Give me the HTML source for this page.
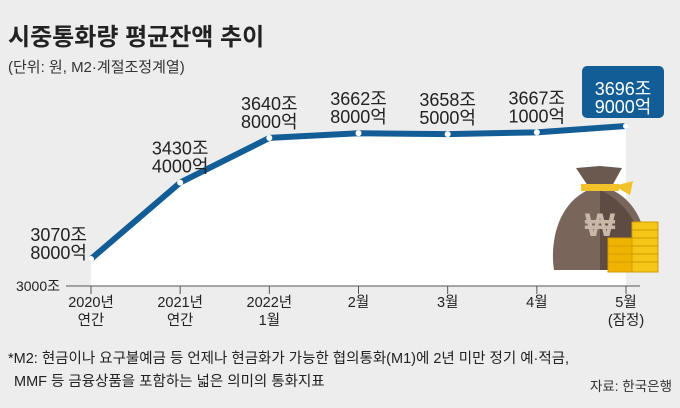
<!DOCTYPE html>
<html><head><meta charset="utf-8"><style>
body{margin:0;width:680px;height:408px;background:#ededed;overflow:hidden;font-family:"Liberation Sans","Noto Sans CJK KR",sans-serif}
svg{display:block}
text{font-family:"Liberation Sans","Noto Sans CJK KR",sans-serif}
</style></head><body>
<svg id="c" width="680" height="408">
<text x="8" y="45" font-size="24" font-weight="bold" fill="#222">시중통화량 평균잔액 추이</text>
<text x="8" y="72" font-size="15" fill="#333">(단위: 원, M2·계절조정계열)</text>
<g id="plot"></g>
<g id="bag">
<path d="M576 168 L600 166 L622 168 L612 186 L588 186 Z" fill="#6b584e"/>
<path d="M588 190 C556 205 550 245 554 270 L646 270 C650 245 644 205 612 190 Z" fill="#7a655a"/>
<path d="M600 190 C634 205 648 245 646 270 L600 270 Z" fill="#5e4b43"/>
<rect x="581" y="184" width="38" height="7" fill="#f2c22a"/><path d="M614 186 L633 181 L630 195 Z" fill="#f2c22a"/>
<text x="600" y="236" font-size="32" font-weight="bold" fill="#c9b8a8" text-anchor="middle">₩</text>
<g stroke="#d39a00" stroke-width="1">
<rect x="608" y="238" width="24" height="34" fill="#f0b400"/>
<line x1="608" y1="246" x2="632" y2="246"/><line x1="608" y1="254" x2="632" y2="254"/><line x1="608" y1="262" x2="632" y2="262"/>
<rect x="632" y="222" width="26" height="50" fill="#f5c518"/>
<line x1="632" y1="230" x2="658" y2="230"/><line x1="632" y1="238" x2="658" y2="238"/><line x1="632" y1="246" x2="658" y2="246"/><line x1="632" y1="254" x2="658" y2="254"/><line x1="632" y1="262" x2="658" y2="262"/>
</g>
</g>
<text x="8" y="363" font-size="14.5" fill="#222">*M2: 현금이나 요구불예금 등 언제나 현금화가 가능한 협의통화(M1)에 2년 미만 정기 예·적금,</text>
<text x="14" y="386" font-size="14.5" fill="#222">MMF 등 금융상품을 포함하는 넓은 의미의 통화지표</text>
<text x="672" y="391" font-size="13.5" fill="#333" text-anchor="end">자료: 한국은행</text>
</svg>
<script>
const categoriesTop=["2020년","2021년","2022년","2월","3월","4월","5월"];
const categoriesBottom=["연간","연간","1월","","","","(잠정)"];
const values=[3070.8,3430.4,3640.8,3662.8,3658.5,3667.1,3696.9];
const labelTop=["3070조","3430조","3640조","3662조","3658조","3667조","3696조"];
const labelBottom=["8000억","4000억","8000억","8000억","5000억","1000억","9000억"];
const baseLabel="3000조";
const NS="http://www.w3.org/2000/svg";
const g=document.getElementById('plot');
function xS(i){return 91+i*(626-91)/(values.length-1);}
function yS(v){return 259-(v-3070.8)*(133/626.1);}
const baseY=286;
function mk(t,a,p){const e=document.createElementNS(NS,t);for(const k in a)e.setAttribute(k,a[k]);(p||g).appendChild(e);return e;}
let d="M"+xS(0)+","+baseY;values.forEach((v,i)=>d+=" L"+xS(i)+","+yS(v));d+=" L"+xS(values.length-1)+","+baseY+"Z";
const area=mk('path',{d:d,fill:'#fff'});


const ax=mk('line',{x1:66,x2:640,y1:baseY,y2:baseY,stroke:'#555','stroke-width':1});


const bl=mk('text',{x:60,y:baseY+5,'font-size':14,'text-anchor':'end',fill:'#222'});bl.textContent=baseLabel;


categoriesTop.forEach((c,i)=>{
 mk('line',{x1:xS(i),x2:xS(i),y1:baseY,y2:baseY+8,stroke:'#555'});
 const t=mk('text',{x:xS(i),y:baseY+21,'font-size':14.5,'text-anchor':'middle',fill:'#222'});t.textContent=c;
 
 
 if(categoriesBottom[i]){const t2=mk('text',{x:xS(i),y:baseY+39,'font-size':14.5,'text-anchor':'middle',fill:'#222'});t2.textContent=categoriesBottom[i];
 
 }
});
const line=mk('polyline',{points:values.map((v,i)=>xS(i)+","+yS(v)).join(" "),fill:'none',stroke:'#135d96','stroke-width':6,'stroke-linejoin':'round','stroke-linecap':'round'});


values.forEach((v,i)=>{
 const x=xS(i),y=yS(v);
 const c=mk('circle',{cx:x,cy:y,r:3,fill:'#fff'});
 
 
 const last=i===values.length-1;
 let lx=x,ty=y-28,anchor='middle',col='#222';
 if(i===0){lx=x-4;ty=y-18;anchor='end';}
 if(last){ty=y-31;col='#fff';
  const r=mk('rect',{x:x-44,y:y-60,width:82,height:52,rx:5,fill:'#135d96'});
  
  lx=x-3;}
 const t=mk('text',{x:lx,y:ty,'font-size':18,'text-anchor':anchor,fill:col});t.textContent=labelTop[i];
 
 
 const t2=mk('text',{x:lx,y:ty+18,'font-size':18,'text-anchor':anchor,fill:col});t2.textContent=labelBottom[i];
 
 
});
</script>
</body></html>
